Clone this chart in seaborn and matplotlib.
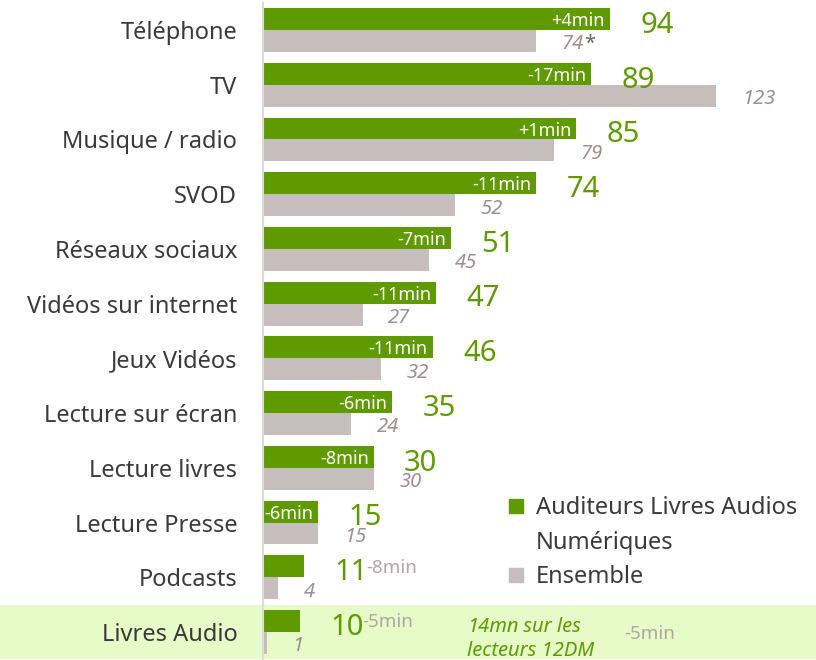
import matplotlib
matplotlib.use("Agg")
import matplotlib.pyplot as plt
import matplotlib.transforms as mtransforms
from matplotlib.lines import Line2D
from matplotlib.patches import Rectangle
import pandas as pd
import seaborn as sns

# Minutes par jour, auditeurs de livres audio numériques vs ensemble
categories = ["Téléphone", "TV", "Musique / radio", "SVOD", "Réseaux sociaux",
              "Vidéos sur internet", "Jeux Vidéos", "Lecture sur écran",
              "Lecture livres", "Lecture Presse", "Podcasts", "Livres Audio"]
auditeurs = [94, 89, 85, 74, 51, 47, 46, 35, 30, 15, 11, 10]
ensemble = [74, 123, 79, 52, 45, 27, 32, 24, 30, 15, 4, 1]
ensemble_flag = [True] + [False] * 11   # "74*"
evolution = ["+4min", "-17min", "+1min", "-11min", "-7min", "-11min", "-11min",
             "-6min", "-8min", "-6min", "-8min", "-5min"]
evolution_inside = [True] * 10 + [False] * 2

series = ["Auditeurs Livres Audios Numériques", "Ensemble"]

GREEN = "#5f9b00"
GREY = "#c6bdbd"
TEXT = "#3a3a3a"
GREY_TEXT = "#9c8f8f"
LIGHT_GREY_TEXT = "#b0a6a6"
HIGHLIGHT = "#e6fbc8"

df = pd.DataFrame({
    "categorie": categories * 2,
    "minutes": auditeurs + ensemble,
    "groupe": [series[0]] * len(categories) + [series[1]] * len(categories),
})

sns.set_theme(style="white")
plt.rcParams["font.family"] = ["Noto Sans", "DejaVu Sans"]

fig = plt.figure(figsize=(8.16, 6.6), dpi=100)
ax = fig.add_axes([263 / 816, 0.001, 1 - 263 / 816, 0.995])

sns.barplot(data=df, y="categorie", x="minutes", hue="groupe", orient="h",
            palette=[GREEN, GREY], saturation=1, width=0.8, linewidth=0,
            legend=False, ax=ax, zorder=2)

# highlighted last row, across the whole figure width
trans = mtransforms.blended_transform_factory(fig.transFigure, ax.transData)
ax.add_patch(Rectangle((0, len(categories) - 1.5), 1, 1, transform=trans,
                       facecolor=HIGHLIGHT, edgecolor="none", zorder=0, clip_on=False))

ax.set_xlim(0, 150)
ax.set_ylim(len(categories) - 0.5, -0.5)
ax.set_xticks([])
ax.set_xlabel("")
ax.set_ylabel("")
for side in ["top", "right", "bottom"]:
    ax.spines[side].set_visible(False)
ax.spines["left"].set_color("#dcdcdc")
ax.spines["left"].set_linewidth(1.5)
ax.tick_params(axis="y", length=0, pad=18.5, labelsize=17, labelcolor=TEXT)

for i in range(len(categories)):
    a, e = auditeurs[i], ensemble[i]
    ax.annotate(str(a), (a, i - 0.2), xytext=(22, -4.5), textcoords="offset points",
                color=GREEN, fontsize=21, ha="left", va="center")
    t = ax.annotate(str(e), (e, i + 0.2), xytext=(18.5, -2.5),
                    textcoords="offset points", color=GREY_TEXT, fontsize=14.5,
                    style="italic", ha="left", va="center")
    if ensemble_flag[i]:
        ax.annotate("*", xy=(1, 0), xycoords=t, color="#6f6464", fontsize=14.5,
                    weight="bold", ha="left", va="bottom")
    if evolution_inside[i]:
        ax.annotate(evolution[i], (a, i - 0.2), xytext=(-3.5, -1.5),
                    textcoords="offset points", color="white", fontsize=13,
                    ha="right", va="center")
    else:
        ax.annotate(evolution[i], (a, i - 0.2), xytext=(45, -1),
                    textcoords="offset points", color=LIGHT_GREY_TEXT, fontsize=13.5,
                    ha="left", va="center")

# note on the Livres Audio row
t1 = ax.text(55.3, 10.9, "14mn", color=GREEN, fontsize=14.5, style="italic",
             weight="bold", ha="left", va="center")
ax.annotate(" sur les", xy=(1, 0), xycoords=t1, color=GREEN, fontsize=14.5,
            style="italic", ha="left", va="bottom")
ax.text(55.3, 11.34, "lecteurs 12DM", color=GREEN, fontsize=14.5, style="italic",
        ha="left", va="center")
ax.text(97.9, 11.03, "-5min", color=LIGHT_GREY_TEXT, fontsize=13.5, ha="left", va="center")

handles = [
    Line2D([], [], marker="s", linestyle="none", markersize=10, color=GREEN),
    Line2D([], [], marker="s", linestyle="none", markersize=10, color="none"),
    Line2D([], [], marker="s", linestyle="none", markersize=10, color=GREY),
]
labels = ["Auditeurs Livres Audios", "Numériques", "Ensemble"]
leg = ax.legend(handles, labels, loc="upper left", bbox_to_anchor=(504 / 816, 1 - 496 / 660),
                bbox_transform=fig.transFigure, frameon=False, fontsize=17,
                handlelength=1.0, handletextpad=0.35, labelspacing=0.45,
                borderpad=0, borderaxespad=0)
for t in leg.get_texts():
    t.set_color(TEXT)

fig.savefig("out.png", dpi=100)
